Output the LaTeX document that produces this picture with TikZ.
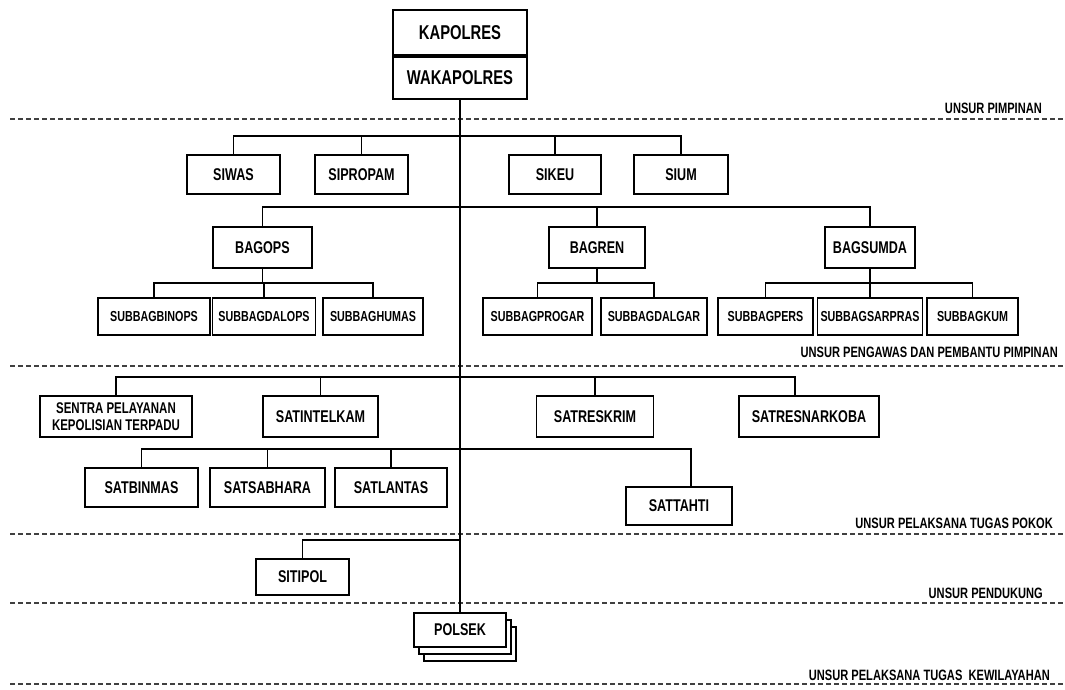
\documentclass[tikz,border=0pt]{standalone}
\usepackage{fontspec}
\setmainfont{Liberation Sans}[FakeStretch=0.74]
\usetikzlibrary{shadows}

\begin{document}
\begin{tikzpicture}[x=1pt, y=-1pt,
    box/.style={draw, line width=1.8pt, fill=white, inner sep=0pt, minimum height=39,
      font=\fontsize{17}{19}\selectfont\bfseries},
    sub/.style={box, minimum height=37, font=\fontsize{14.5}{16}\selectfont\bfseries},
    top/.style={box, minimum width=134, font=\fontsize{20}{22}\selectfont\bfseries},
    link/.style={line width=1.8pt},
    sep/.style={line width=1.2pt, black!75, dash pattern=on 5pt off 3pt},
    unsur/.style={anchor=base east, inner sep=0pt, font=\fontsize{15}{17}\selectfont\bfseries}]
  \useasboundingbox (0,0) rectangle (1065,689);
  \foreach \y in {119,366,534,603,684}
    \draw[sep] (10,\y) -- (1063,\y);
  \node[unsur] (pimpinan) at (1042,113) {UNSUR PIMPINAN};
  \node[unsur] (pengawas) at (1058,357) {UNSUR PENGAWAS DAN PEMBANTU PIMPINAN};
  \node[unsur] (pokok) at (1053,528) {UNSUR PELAKSANA TUGAS POKOK};
  \node[unsur] (pendukung) at (1043,598) {UNSUR PENDUKUNG};
  \node[unsur] (wilayah) at (1050,680) {UNSUR PELAKSANA TUGAS~ KEWILAYAHAN};

  \node[top, minimum height=45] (kapolres) at (460,32.5) {KAPOLRES};
  \node[top, minimum height=42, anchor=north] (wakapolres) at (kapolres.south) {WAKAPOLRES};

  \foreach \n/\x/\w/\t in {siwas/233.5/93/SIWAS, sipropam/361.5/93/SIPROPAM,
      sikeu/555/92/SIKEU, sium/681/94/SIUM}
    \node[box, minimum width=\w] (\n) at (\x,174.5) {\t};
  \foreach \n/\x/\w/\t in {bagops/262.5/99/BAGOPS, bagren/597/96/BAGREN,
      bagsumda/870/90/BAGSUMDA}
    \node[box, minimum height=41, minimum width=\w] (\n) at (\x,247.5) {\t};
  \foreach \n/\x/\w/\t in {subbagbinops/154/112/SUBBAGBINOPS, subbagdalops/264/103/SUBBAGDALOPS,
      subbaghumas/373/100/SUBBAGHUMAS, subbagprogar/537.5/109/SUBBAGPROGAR,
      subbagdalgar/654/106/SUBBAGDALGAR, subbagpers/765.5/95/SUBBAGPERS,
      subbagsarpras/870/105/SUBBAGSARPRAS, subbagkum/972.5/91/SUBBAGKUM}
    \node[sub, minimum width=\w] (\n) at (\x,316.5) {\t};

  \node[box, minimum height=41, minimum width=152, align=center,
    font=\fontsize{15.5}{17}\selectfont\bfseries] (sentra) at (116,416.5)
    {SENTRA PELAYANAN\\KEPOLISIAN TERPADU};
  \foreach \n/\x/\w/\t in {satintelkam/320.5/115/SATINTELKAM, satreskrim/595/117/SATRESKRIM,
      satresnarkoba/809/140/SATRESNARKOBA}
    \node[box, minimum height=41, minimum width=\w] (\n) at (\x,416.5) {\t};
  \foreach \n/\x/\w/\t in {satbinmas/141.5/113/SATBINMAS, satsabhara/267.5/115/SATSABHARA,
      satlantas/391/112/SATLANTAS}
    \node[box, minimum width=\w] (\n) at (\x,487.5) {\t};
  \node[box, minimum height=38, minimum width=106] (sattahti) at (679,506) {SATTAHTI};
  \node[box, minimum height=36, minimum width=93] (sitipol) at (302.5,577) {SITIPOL};
  \node[box, minimum height=34, minimum width=92,
    double copy shadow={shadow xshift=5pt, shadow yshift=-7pt, draw=black,
      line width=1.8pt, fill=white}] (polsek) at (460,630) {POLSEK};

  \coordinate (bus1) at (460,136);
  \coordinate (bus2) at (460,207);
  \coordinate (bus3) at (460,283);
  \coordinate (bus4) at (460,377);
  \coordinate (bus5) at (460,449);
  \coordinate (bus6) at (460,540);
  \coordinate (narkoba) at ([xshift=-14pt]satresnarkoba.north);
  \coordinate (tahti) at ([xshift=12pt]sattahti.north);

  \draw[link] (wakapolres.south) -- (polsek.north);
  \draw[link] (siwas.north) -- (siwas.north |- bus1) -- (sium.north |- bus1) -- (sium.north);
  \foreach \n in {sipropam,sikeu}
    \draw[link] (\n.north) -- (\n.north |- bus1);
  \draw[link] (bagops.north) -- (bagops.north |- bus2) -- (bagsumda.north |- bus2) -- (bagsumda.north);
  \draw[link] (bagren.north) -- (bagren.north |- bus2);
  \foreach \p/\a/\b in {bagops/subbagbinops/subbaghumas, bagren/subbagprogar/subbagdalgar,
      bagsumda/subbagpers/subbagkum} {
    \draw[link] (\p.south) -- (\p.south |- bus3);
    \draw[link] (\a.north) -- (\a.north |- bus3) -- (\b.north |- bus3) -- (\b.north);
  }
  \foreach \n in {subbagdalops,subbagsarpras}
    \draw[link] (\n.north) -- (\n.north |- bus3);
  \draw[link] (sentra.north) -- (sentra.north |- bus4) -- (narkoba |- bus4) -- (narkoba);
  \foreach \n in {satintelkam,satreskrim}
    \draw[link] (\n.north) -- (\n.north |- bus4);
  \draw[link] (satbinmas.north) -- (satbinmas.north |- bus5) -- (tahti |- bus5) -- (tahti);
  \foreach \n in {satsabhara,satlantas}
    \draw[link] (\n.north) -- (\n.north |- bus5);
  \draw[link] (sitipol.north) |- (bus6);
\end{tikzpicture}
\end{document}
